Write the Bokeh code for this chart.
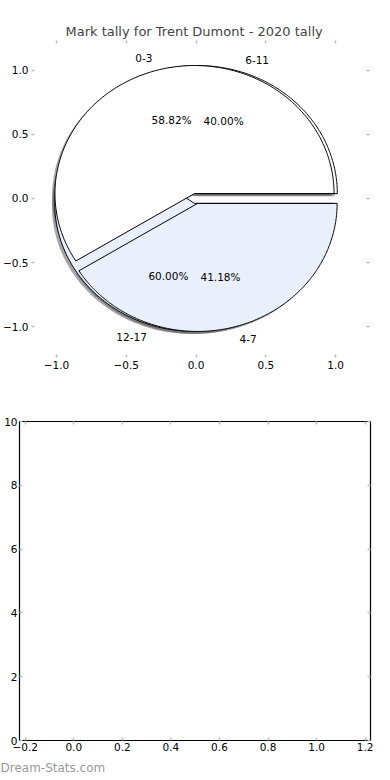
import numpy as np
from bokeh.plotting import figure
from bokeh.models import Range1d, LinearAxis, FixedTicker, Title, ColumnDataSource, CustomJSTickFormatter
from bokeh.embed import file_html
from bokeh.resources import INLINE
from bokeh.core.properties import value

# ---------------- data ----------------
title_text = "Mark tally for Trent Dumont - 2020 tally"
groups_front = ["0-3", "4-7"]
tally_front = [10, 7]
groups_back = ["6-11", "12-17"]
tally_back = [4, 6]
pie_colors = ["#ffffff", "#eaf0fb"]
pie_xticks = [-1.0, -0.5, 0.0, 0.5, 1.0]
pie_yticks = [-1.0, -0.5, 0.0, 0.5, 1.0]
empty_xticks = [-0.2, 0.0, 0.2, 0.4, 0.6, 0.8, 1.0, 1.2]
empty_yticks = [0, 2, 4, 6, 8, 10]
watermark = "Dream-Stats.com"

# ---------------- style ----------------
FONT = "DejaVu Sans"
TICK_FONT = "10.5px"
TICK_COLOR = "#bdbdbd"
EXPLODE = 0.04
SHADOW_OFF = 0.02


def pie_parts(values, labels):
    vals = np.asarray(values, dtype=float)
    fr = vals / vals.sum()
    ends = np.cumsum(fr) * 2 * np.pi
    starts = np.concatenate([[0.0], ends[:-1]])
    wx, wy, sx, sy, cols = [], [], [], [], []
    lx, ly, lal, px, py, ptxt = [], [], [], [], [], []
    for i, (f, a0, a1) in enumerate(zip(fr, starts, ends)):
        mid = 0.5 * (a0 + a1)
        cx, cy = EXPLODE * np.cos(mid), EXPLODE * np.sin(mid)
        th = np.linspace(a0, a1, 240)
        xs = np.concatenate([[cx], cx + np.cos(th), [cx]])
        ys = np.concatenate([[cy], cy + np.sin(th), [cy]])
        wx.append(list(xs)); wy.append(list(ys))
        sx.append(list(xs - SHADOW_OFF)); sy.append(list(ys - SHADOW_OFF))
        cols.append(pie_colors[i % len(pie_colors)])
        lxv = cx + 1.1 * np.cos(mid)
        lyv = cy + 1.1 * np.sin(mid)
        lx.append(lxv); ly.append(lyv)
        lal.append("left" if lxv > 0 else "right")
        px.append(cx + 0.6 * np.cos(mid)); py.append(cy + 0.6 * np.sin(mid))
        ptxt.append("%.2f%%" % (100 * f))
    return (ColumnDataSource(dict(xs=wx, ys=wy, color=cols)),
            ColumnDataSource(dict(xs=sx, ys=sy)),
            ColumnDataSource(dict(x=lx, y=ly, text=list(labels), align=lal)),
            ColumnDataSource(dict(x=px, y=py, text=ptxt)))


def minus_fmt():
    return CustomJSTickFormatter(code="return tick.toFixed(1).replace('-', '\\u2212');")


def style_axis(ax, ticks, labels=True, fmt=None, line=None, standoff=3):
    ax.ticker = FixedTicker(ticks=ticks)
    ax.axis_label = None
    ax.axis_label_standoff = 0
    ax.axis_label_text_font_size = "0px"
    ax.major_tick_in = 3
    ax.major_tick_out = 0
    ax.major_tick_line_color = TICK_COLOR
    ax.major_tick_line_width = 1.5
    ax.minor_tick_line_color = None
    ax.minor_tick_in = 0
    ax.minor_tick_out = 0
    ax.axis_line_color = line
    ax.major_label_text_font = FONT
    if labels:
        ax.major_label_text_color = "black"
        ax.major_label_text_font_size = TICK_FONT
        ax.major_label_standoff = standoff
    else:
        ax.major_label_text_color = None
        ax.major_label_text_font_size = "1px"
        ax.major_label_standoff = 0
    if fmt is not None:
        ax.formatter = fmt


# ---------------- pie panel ----------------
p1 = figure(width=382, height=377, output_backend="svg", toolbar_location=None,
            x_range=Range1d(-1.179, 1.243), y_range=Range1d(-1.242, 1.234),
            min_border_top=40, min_border_bottom=20, min_border_right=13, min_border_left=30,
            x_axis_location=None, y_axis_location=None)
p1.title.text = title_text
p1.title.align = "left"
p1.title.offset = 34
p1.title.text_font = FONT
p1.title.text_font_size = "13px"
p1.title.text_font_style = "normal"
p1.title.standoff = 3
p1.grid.visible = False
p1.outline_line_color = None

for loc, ticks, lab in [("below", pie_xticks, True), ("above", pie_xticks, False),
                        ("left", pie_yticks, True), ("right", pie_yticks, False)]:
    ax = LinearAxis()
    style_axis(ax, ticks, labels=lab, fmt=minus_fmt() if lab else None, line=None)
    p1.add_layout(ax, loc)

back = pie_parts(tally_back, groups_back)
front = pie_parts(tally_front, groups_front)

for parts in (back, front):
    p1.patches("xs", "ys", source=parts[1], fill_color="#4d4d4d", fill_alpha=0.5, line_color=None)
for parts in (back, front):
    p1.patches("xs", "ys", source=parts[0], fill_color="color", line_color="black", line_width=1)
for parts in (back, front):
    p1.text("x", "y", text="text", source=parts[2], text_align="align", text_baseline="middle",
            text_font=value(FONT), text_font_size=TICK_FONT, text_color="black")
    p1.text("x", "y", text="text", source=parts[3], text_align="center", text_baseline="middle",
            text_font=value(FONT), text_font_size=TICK_FONT, text_color="black")

# ---------------- empty panel ----------------
p2 = figure(width=382, height=403, output_backend="svg", toolbar_location=None,
            x_range=Range1d(-0.2235, 1.222), y_range=Range1d(0, 10),
            min_border_top=44, min_border_bottom=40, min_border_right=12, min_border_left=19,
            x_axis_location=None, y_axis_location=None)
p2.grid.visible = False
p2.outline_line_color = "black"
p2.outline_line_width = 1.2
for loc, ticks, lab, fmt in [("below", empty_xticks, True, minus_fmt()), ("above", empty_xticks, False, None),
                             ("left", empty_yticks, True, None), ("right", empty_yticks, False, None)]:
    ax = LinearAxis()
    style_axis(ax, ticks, labels=lab, fmt=fmt, line="black", standoff=2)
    p2.add_layout(ax, loc)

p2.add_layout(Title(text=watermark, align="left", text_color="#9a9a9a", text_font=FONT,
                    text_font_size="12px", text_font_style="normal", offset=-19, standoff=11), "below")

open("out.html", "w").write(file_html([p1, p2], INLINE))
